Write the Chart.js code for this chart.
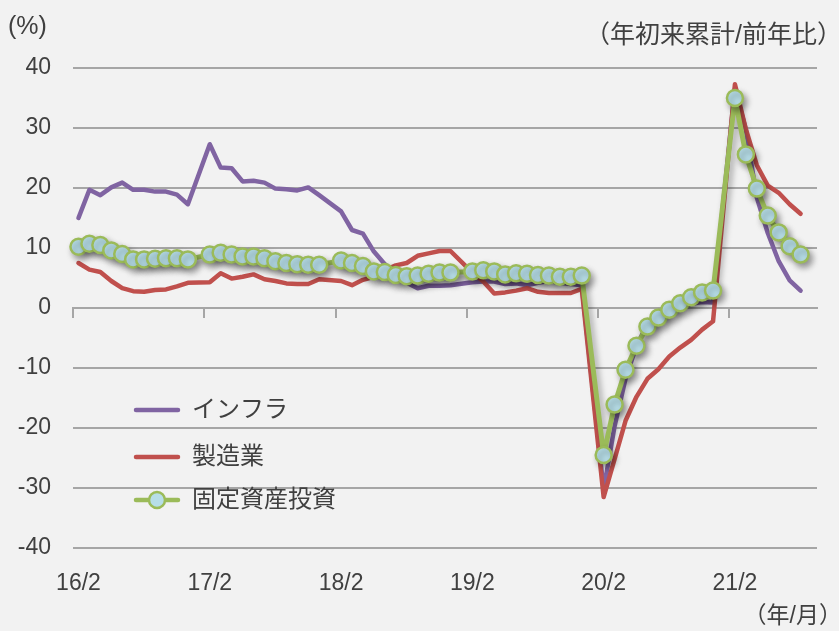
<!DOCTYPE html>
<html><head><meta charset="utf-8">
<script src="https://cdn.jsdelivr.net/npm/chart.js@4.4.1/dist/chart.umd.min.js"></script>
<style>html,body{margin:0;padding:0;background:#F2F2F2;}#wrap{width:839px;height:631px;}</style>
</head><body><div id="wrap"><canvas id="c" width="839" height="631"></canvas></div>
<script>
const categories = [
 '16/2','16/3','16/4','16/5','16/6','16/7','16/8','16/9','16/10','16/11','16/12','17/1',
 '17/2','17/3','17/4','17/5','17/6','17/7','17/8','17/9','17/10','17/11','17/12','18/1',
 '18/2','18/3','18/4','18/5','18/6','18/7','18/8','18/9','18/10','18/11','18/12','19/1',
 '19/2','19/3','19/4','19/5','19/6','19/7','19/8','19/9','19/10','19/11','19/12','20/1',
 '20/2','20/3','20/4','20/5','20/6','20/7','20/8','20/9','20/10','20/11','20/12','21/1',
 '21/2','21/3','21/4','21/5','21/6','21/7','21/8','21/9'];
const shownTickLabels = ['16/2','17/2','18/2','19/2','20/2','21/2'];
const infra = [
 15.0,19.7,18.8,20.1,20.9,19.7,19.7,19.4,19.4,18.9,17.3,null,
 27.3,23.4,23.3,21.1,21.2,20.9,19.9,19.8,19.6,20.1,18.8,null,
 16.1,13.0,12.4,9.4,7.3,5.7,4.2,3.3,3.7,3.7,3.8,null,
 4.3,4.4,4.4,4.0,4.1,3.8,4.2,4.5,4.2,4.0,3.8,null,
 -30.3,-19.7,-11.8,-6.3,-2.7,-1.0,0.2,0.2,0.7,1.0,0.9,null,
 36.6,29.7,18.4,12.5,7.8,4.6,2.9,null];
const manufacturing = [
 7.5,6.4,6.0,4.5,3.3,2.8,2.7,3.0,3.1,3.6,4.2,null,
 4.3,5.8,4.9,5.2,5.6,4.8,4.5,4.1,4.0,4.0,4.8,null,
 4.5,3.8,4.7,5.2,6.3,7.1,7.5,8.7,9.1,9.5,9.5,null,
 5.9,4.4,2.4,2.6,2.9,3.3,2.7,2.5,2.5,2.5,3.2,null,
 -31.5,-25.2,-18.8,-14.8,-11.8,-10.2,-8.1,-6.6,-5.3,-3.6,-2.2,null,
 37.3,29.8,23.8,20.4,19.2,17.3,15.7,null];
const fixedAssetInvestment = [
 10.2,10.7,10.5,9.6,9.0,8.1,8.1,8.2,8.3,8.3,8.1,null,
 8.9,9.2,8.9,8.6,8.6,8.3,7.8,7.5,7.3,7.2,7.2,null,
 7.9,7.5,7.0,6.1,6.0,5.5,5.3,5.4,5.7,5.9,5.9,null,
 6.1,6.3,6.1,5.6,5.8,5.7,5.5,5.4,5.2,5.2,5.4,null,
 -24.5,-16.1,-10.3,-6.3,-3.1,-1.6,-0.3,0.8,1.8,2.6,2.9,null,
 35.0,25.6,19.9,15.4,12.6,10.3,8.9,null];
const seriesNames = ['インフラ','製造業','固定資産投資'];
const yMin = -40, yMax = 40, yStep = 10;
const unitLabel = '(%)';
const noteLabel = '（年初来累計/前年比）';
const xUnitLabel = '（年/月）';

const PURPLE = '#8064A2', RED = '#C0504D', GREEN = '#9BBB59', MARKER = '#B7DEE8';
const GRID = '#A6A6A6', TEXT = '#404040';
const numFont = "'Liberation Sans',Arial,sans-serif";
const jpFont = "'Liberation Sans','Noto Sans CJK JP',sans-serif";

const bgPlugin = {
  id: 'bg',
  beforeDraw(chart) {
    const ctx = chart.ctx;
    ctx.save(); ctx.fillStyle = '#F2F2F2';
    ctx.fillRect(0, 0, chart.width, chart.height); ctx.restore();
  }
};
const shadowPlugin = {
  id: 'shadow',
  beforeDatasetDraw(chart, args) {
    if (args.index === 2) {
      const ctx = chart.ctx; ctx.save();
      ctx.shadowColor = 'rgba(0,0,0,0.35)'; ctx.shadowBlur = 6;
      ctx.shadowOffsetX = 3; ctx.shadowOffsetY = 4;
    }
  },
  afterDatasetDraw(chart, args) {
    if (args.index === 2) chart.ctx.restore();
  }
};
const textPlugin = {
  id: 'texts',
  afterDraw(chart) {
    const ctx = chart.ctx;
    ctx.save();
    ctx.fillStyle = TEXT; ctx.textBaseline = 'middle';
    ctx.font = `25px ${jpFont}`;
    ctx.textAlign = 'left'; ctx.fillText(unitLabel, 8, 27);
    ctx.font = `25px ${jpFont}`;
    ctx.textAlign = 'right'; ctx.fillText(noteLabel, 842, 36);
    ctx.font = `23px ${jpFont}`;
    ctx.fillText(xUnitLabel, 842, 617);
    // legend
    const colors = [PURPLE, RED, GREEN];
    const ys = [410, 457, 500];
    ctx.font = `24px ${jpFont}`;
    ctx.textAlign = 'left';
    for (let i = 0; i < 3; i++) {
      ctx.beginPath(); ctx.strokeStyle = colors[i]; ctx.lineWidth = 4.5; ctx.lineCap = 'round';
      ctx.moveTo(136, ys[i]); ctx.lineTo(178, ys[i]); ctx.stroke();
      if (i === 2) {
        ctx.beginPath(); ctx.arc(157, ys[i], 8, 0, Math.PI * 2);
        ctx.fillStyle = MARKER; ctx.fill(); ctx.lineWidth = 2.5; ctx.strokeStyle = GREEN; ctx.stroke();
      }
      ctx.fillStyle = TEXT;
      ctx.fillText(seriesNames[i], 192, ys[i]);
    }
    ctx.restore();
  }
};

new Chart(document.getElementById('c'), {
  type: 'line',
  data: {
    labels: categories,
    datasets: [
      {label: seriesNames[0], data: infra, borderColor: PURPLE, backgroundColor: PURPLE, borderWidth: 4.5, pointRadius: 0, order: 3},
      {label: seriesNames[1], data: manufacturing, borderColor: RED, backgroundColor: RED, borderWidth: 4.5, pointRadius: 0, order: 2},
      {label: seriesNames[2], data: fixedAssetInvestment, borderColor: GREEN, borderWidth: 5,
       pointRadius: 8, pointBackgroundColor: MARKER, pointBorderColor: GREEN, pointBorderWidth: 2.5, order: 1}
    ]
  },
  options: {
    responsive: false, animation: false, devicePixelRatio: 1,
    spanGaps: true,
    elements: {line: {tension: 0, borderJoinStyle: 'round', borderCapStyle: 'round'}},
    layout: {padding: {top: 68, right: 22, left: 0, bottom: 0}},
    plugins: {legend: {display: false}, tooltip: {enabled: false}},
    scales: {
      x: {
        type: 'category', position: 'bottom', offset: true,
        grid: {display: false}, border: {display: false},
        ticks: {autoSkip: false, maxRotation: 0, minRotation: 0, padding: 14, color: TEXT,
          font: {family: numFont, size: 23},
          callback: (v, i) => shownTickLabels.includes(categories[i]) ? categories[i] : ''},
        afterFit: s => { s.height = 83; }
      },
      x0: {
        type: 'category', position: {y: 0}, offset: true,
        grid: {offset: true, drawOnChartArea: false, drawTicks: true, tickLength: 9, lineWidth: 2,
          color: c => (c.index % 12 === 0) ? GRID : 'rgba(0,0,0,0)'},
        border: {display: true, color: GRID, width: 2},
        ticks: {display: false}
      },
      y: {
        min: yMin, max: yMax,
        ticks: {stepSize: yStep, padding: 22, color: TEXT, font: {family: numFont, size: 23}},
        grid: {color: GRID, lineWidth: 2, drawTicks: false},
        border: {display: false},
        afterFit: s => { s.width = 73; }
      }
    }
  },
  plugins: [bgPlugin, shadowPlugin, textPlugin]
});
</script>
</body></html>
